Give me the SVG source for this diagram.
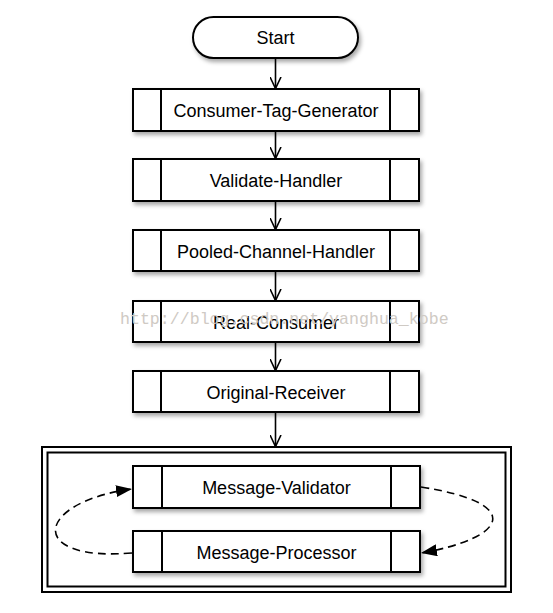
<svg xmlns="http://www.w3.org/2000/svg" width="553" height="613" viewBox="0 0 553 613">
<style>
.box{fill:#fff;stroke:#000;stroke-width:2;filter:url(#sh)}
.div{stroke:#000;stroke-width:2;fill:none}
.lbl{font-family:"Liberation Sans",Arial,sans-serif;font-size:18px;fill:#000;text-anchor:middle}
.arr{stroke:#000;stroke-width:1.6;fill:none;marker-end:url(#v)}
.dash{stroke:#000;stroke-width:1.6;fill:none;stroke-dasharray:8 5;marker-end:url(#tri)}
.wm{font-family:"Liberation Mono","DejaVu Sans Mono",monospace;font-size:16.6px;fill:#cfcac4}
</style>
<defs>
<filter id="sh" x="-10%" y="-20%" width="125%" height="160%">
<feDropShadow dx="2" dy="3" stdDeviation="2" flood-color="#000" flood-opacity="0.35"/>
</filter>
<marker id="v" viewBox="0 0 12 12" refX="11.5" refY="6" markerWidth="12" markerHeight="12" orient="auto" markerUnits="userSpaceOnUse">
<path d="M0,0.5 L11.5,6 L0,11.5" fill="none" stroke="#000" stroke-width="1.6"/>
</marker>
<marker id="tri" viewBox="0 0 16 12" refX="16" refY="6" markerWidth="16" markerHeight="12" orient="auto" markerUnits="userSpaceOnUse">
<path d="M0,0 L16,6 L0,12 Z" fill="#000"/>
</marker>
</defs>
<rect width="553" height="613" fill="#fff"/>

<g id="start">
<rect class="box" x="193" y="17" width="165" height="41" rx="20.5" ry="20.5"/>
<text class="lbl" x="275.5" y="44">Start</text>
</g>

<g id="consumer-tag-generator">
<rect class="box" x="133" y="89" width="286" height="42"/>
<path class="div" d="M161,89 V131 M390,89 V131"/>
<text class="lbl" x="276" y="117">Consumer-Tag-Generator</text>
</g>

<g id="validate-handler">
<rect class="box" x="133" y="159" width="286" height="42"/>
<path class="div" d="M161,159 V201 M390,159 V201"/>
<text class="lbl" x="276" y="187">Validate-Handler</text>
</g>

<g id="pooled-channel-handler">
<rect class="box" x="133" y="230" width="286" height="41"/>
<path class="div" d="M161,230 V271 M390,230 V271"/>
<text class="lbl" x="276" y="257.5">Pooled-Channel-Handler</text>
</g>

<g id="real-consumer">
<rect class="box" x="133" y="301" width="286" height="41"/>
<path class="div" d="M161,301 V342 M390,301 V342"/>
<text class="lbl" x="276" y="328.5">Real-Consumer</text>
</g>

<g id="original-receiver">
<rect class="box" x="133" y="371" width="286" height="41"/>
<path class="div" d="M161,371 V412 M390,371 V412"/>
<text class="lbl" x="276" y="398.5">Original-Receiver</text>
</g>

<g id="container">
<rect x="42" y="447" width="469" height="145" fill="#fff" stroke="#000" stroke-width="2"/>
<rect x="47.5" y="452.5" width="458" height="134" fill="none" stroke="#000" stroke-width="2"/>
</g>

<g id="message-validator">
<rect class="box" x="133" y="466" width="287" height="42"/>
<path class="div" d="M162,466 V508 M391,466 V508"/>
<text class="lbl" x="276.5" y="494">Message-Validator</text>
</g>

<g id="message-processor">
<rect class="box" x="133" y="531" width="287" height="41"/>
<path class="div" d="M162,531 V572 M391,531 V572"/>
<text class="lbl" x="276.5" y="558.5">Message-Processor</text>
</g>

<g id="connectors">
<path class="arr" d="M275.5,58 V88.5"/>
<path class="arr" d="M275.5,131 V158.5"/>
<path class="arr" d="M275.5,201 V229.5"/>
<path class="arr" d="M275.5,271 V300.5"/>
<path class="arr" d="M275.5,342 V370.5"/>
<path class="arr" d="M275.5,412 V446.5"/>
<path class="dash" d="M421,487 C525,503 508,538 421,553"/>
<path class="dash" d="M132,553 C25,562 35,502 132,489"/>
</g>

<text class="wm" x="120" y="324">http://blog.csdn.net/yanghua_kobe</text>
</svg>
